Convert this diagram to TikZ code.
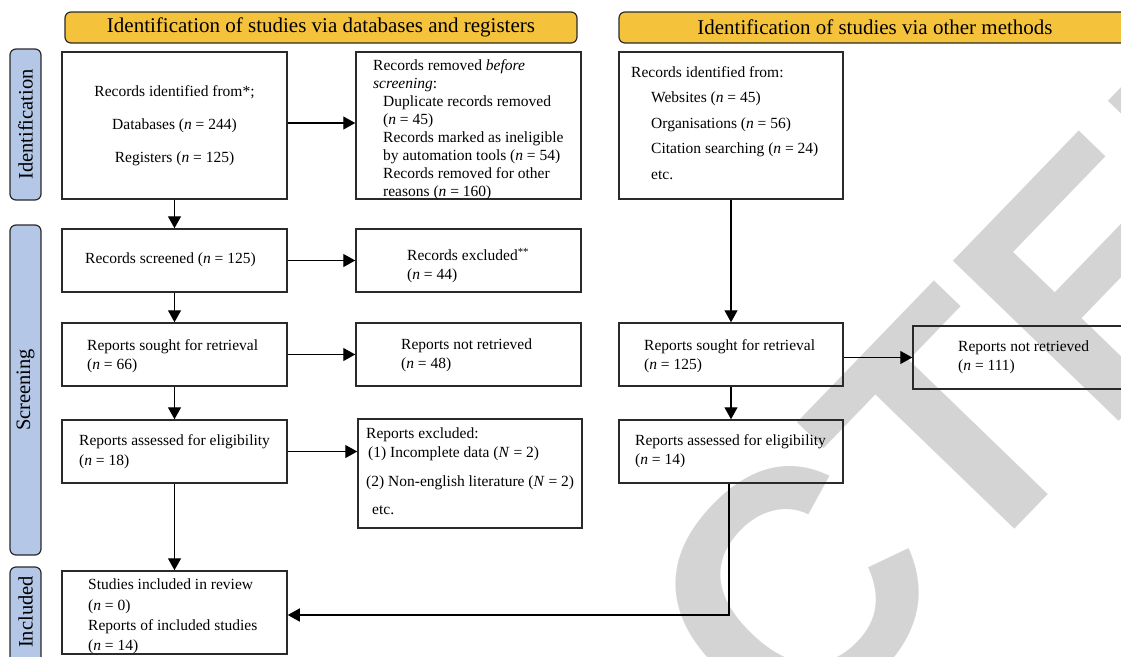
\documentclass[tikz,border=0pt]{standalone}
\usepackage{fontspec}
\setmainfont{Liberation Serif}
\newfontfamily\wmfont{Liberation Sans}
\usetikzlibrary{arrows.meta}
\definecolor{hdr}{HTML}{F5C33B}
\definecolor{side}{HTML}{B4C7E7}
\definecolor{wm}{HTML}{D4D4D4}
\definecolor{edge}{HTML}{2A2A2A}
\newcommand\nv{\textit{n}}
\newcommand\Nv{\textit{N}}
\begin{document}
\begin{tikzpicture}[x=1pt,y=-1pt,
  box/.style={draw=edge, line width=1.5pt, inner sep=0pt},
  hdrbox/.style={draw=edge, line width=1.2pt, fill=hdr, rounded corners=6pt, inner sep=0pt},
  sidebox/.style={draw=edge, line width=1.2pt, fill=side, rounded corners=6pt, inner sep=0pt},
  txt/.style={anchor=north west, inner sep=0pt, align=left, font=\fontsize{15.5}{18}\selectfont},
  ctxt/.style={anchor=north, inner sep=0pt, align=center, font=\fontsize{15.5}{18}\selectfont},
  htxt/.style={inner sep=0pt, font=\fontsize{21}{24}\selectfont},
  stxt/.style={inner sep=0pt, font=\fontsize{20.5}{24}\selectfont},
  arr/.style={draw=black, line width=1.3pt, -{Triangle[length=12pt,width=13pt]}}]
\useasboundingbox (0,0) rectangle (1121,656);
\clip (0,0) rectangle (1121,656);
% watermark
\node[text=wm, rotate=46, inner sep=0pt, font=\wmfont\bfseries\fontsize{335}{335}\selectfont] (wmark) at (626,766) {RETRACTED};
% headers
\node[hdrbox, minimum width=512pt, minimum height=31pt] (h1) at (321,27.5) {};
\node[htxt] (h1t) at (321,27.5) {Identification of studies via databases and registers};
\node[hdrbox, minimum width=512pt, minimum height=31pt] (h2) at (875,27.5) {};
\node[htxt] (h2t) at (875,27.5) {Identification of studies via other methods};
% side labels
\node[sidebox, minimum width=31pt, minimum height=151pt] (s1) at (25.5,124.5) {};
\node[stxt, rotate=90] (s1t) at (25.5,124.5) {Identification};
\node[sidebox, minimum width=31pt, minimum height=330pt] (s2) at (25.5,390) {};
\node[stxt, rotate=90] (s2t) at (25.5,390) {Screening};
\node[sidebox, minimum width=31pt, minimum height=133pt] (s3) at (25.5,633.5) {};
\node[stxt, rotate=90] (s3t) at (25.5,612) {Included};
% boxes
\node[box, minimum width=225pt, minimum height=147pt] (A) at (174.5,125.5) {};
\node[box, minimum width=225pt, minimum height=147pt] (B) at (468.5,125.5) {};
\node[box, minimum width=225pt, minimum height=63pt] (C) at (174.5,260.5) {};
\node[box, minimum width=225pt, minimum height=63pt] (D) at (468.5,260.5) {};
\node[box, minimum width=225pt, minimum height=63pt] (E) at (174.5,354.5) {};
\node[box, minimum width=225pt, minimum height=63pt] (F) at (468.5,354.5) {};
\node[box, minimum width=225pt, minimum height=63pt] (G) at (174.5,451.5) {};
\node[box, minimum width=224pt, minimum height=109pt] (H) at (470,473.5) {};
\node[box, minimum width=225pt, minimum height=83pt] (I) at (174.5,612.5) {};
\node[box, minimum width=224pt, minimum height=147pt] (J) at (731,125.5) {};
\node[box, minimum width=224pt, minimum height=63pt] (K) at (731,354.5) {};
\node[box, minimum width=224pt, minimum height=63pt] (L) at (1025,357.5) {};
\node[box, minimum width=224pt, minimum height=63pt] (M) at (731,451.5) {};
% texts
\node[ctxt] (At) at (174.5,85) {Records identified from*;\\[15pt] Databases (\nv\ = 244)\\[15pt] Registers (\nv\ = 125)};
\node[txt] (Bt) at (373,59) {Records removed \textit{before}\\ \textit{screening}:\\
 \hspace*{10pt}Duplicate records removed\\ \hspace*{10pt}(\nv\ = 45)\\
 \hspace*{10pt}Records marked as ineligible\\ \hspace*{10pt}by automation tools (\nv\ = 54)\\
 \hspace*{10pt}Records removed for other\\ \hspace*{10pt}reasons (\nv\ = 160)};
\node[txt] (Ct) at (85,253) {Records screened (\nv\ = 125)};
\node[txt] (Dt) at (407,248) {Records excluded\textsuperscript{**}\\[1pt] (\nv\ = 44)};
\node[txt] (Et) at (87,339) {Reports sought for retrieval\\[1pt] (\nv\ = 66)};
\node[txt] (Ft) at (401,339) {Reports not retrieved\\[1pt] (\nv\ = 48)};
\node[txt] (Gt) at (79,434) {Reports assessed for eligibility\\[2pt] (\nv\ = 18)};
\node[txt] (Ht) at (366,428) {Reports excluded:\\[1pt] \hspace*{2pt}(1) Incomplete data (\Nv\ = 2)\\[11pt] (2) Non-english literature (\Nv\ = 2)\\[10pt] \hspace*{6pt}etc.};
\node[txt] (It) at (88,579) {Studies included in review\\[2.3pt] (\nv\ = 0)\\[2.3pt] Reports of included studies\\[1.8pt] (\nv\ = 14)};
\node[txt] (Jt) at (631,66) {Records identified from:\\[7.5pt] \hspace*{20pt}Websites (\nv\ = 45)\\[7.5pt] \hspace*{20pt}Organisations (\nv\ = 56)\\[7.5pt] \hspace*{20pt}Citation searching (\nv\ = 24)\\[7.5pt] \hspace*{20pt}etc.};
\node[txt] (Kt) at (644,339) {Reports sought for retrieval\\[1pt] (\nv\ = 125)};
\node[txt] (Lt) at (958,341) {Reports not retrieved\\[1pt] (\nv\ = 111)};
\node[txt] (Mt) at (635,434) {Reports assessed for eligibility\\[1pt] (\nv\ = 14)};
% connectors
\draw[arr] (A.east |- 0,123) -- (B.west |- 0,123);
\draw[arr] (A.south) -- (C.north);
\draw[arr] (C.east) -- (D.west);
\draw[arr] (C.south) -- (E.north);
\draw[arr] (E.east) -- (F.west);
\draw[arr] (E.south) -- (G.north);
\draw[arr] (G.east) -- (H.west |- G.east);
\draw[arr] (G.south) -- (I.north);
\draw[arr] (J.south) -- (K.north);
\draw[arr] (K.east |- L.west) -- (L.west);
\draw[arr] (K.south) -- (M.north);
\coordinate (bend) at (729,615);
\draw[arr] (M.south -| bend) -- (bend) -- (I.east |- bend);
\end{tikzpicture}
\end{document}
